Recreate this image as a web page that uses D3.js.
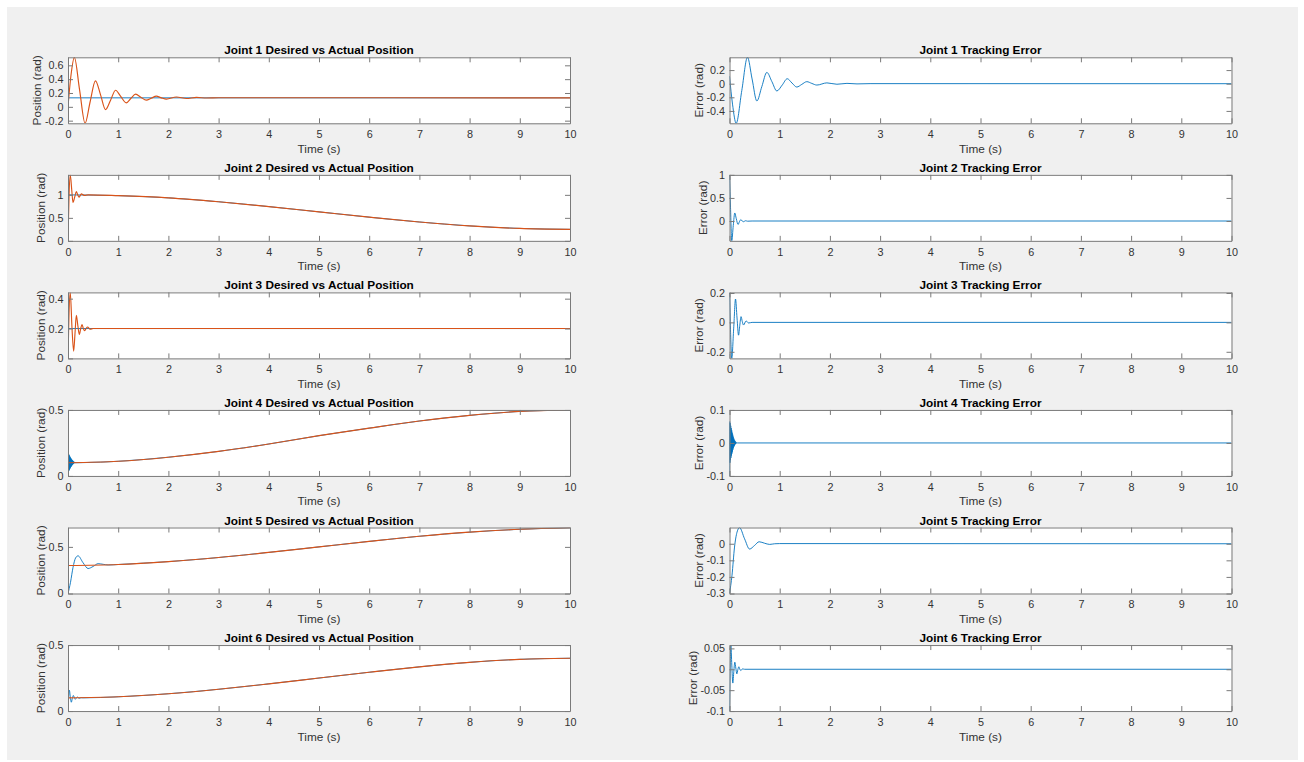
<!DOCTYPE html>
<html>
<head>
<meta charset="utf-8">
<script src="https://cdn.jsdelivr.net/npm/d3@7"></script>
<style>
  body { margin: 0; background: #fff; }
  text { font-family: "Liberation Sans", Arial, sans-serif; }
</style>
</head>
<body>
<div id="my_dataviz"></div>
<script>
// time ticks (s)
const timeTicks = [0, 1, 2, 3, 4, 5, 6, 7, 8, 9, 10];

// position series, [t, rad]. "first" is the blue line, "second" the orange one
const j1First = [[0, 0.13], [10, 0.13]];
const j1Second = [[0, 0.0], [0.06, 0.46], [0.127, 0.716], [0.23, 0.25], [0.34, -0.238], [0.44, 0.07],
  [0.547, 0.376], [0.65, 0.17], [0.747, -0.04], [0.85, 0.1], [0.947, 0.24], [1.05, 0.15], [1.16, 0.058],
  [1.25, 0.12], [1.347, 0.183], [1.45, 0.14], [1.56, 0.096], [1.66, 0.125], [1.76, 0.154], [1.86, 0.13],
  [1.96, 0.112], [2.16, 0.142], [2.36, 0.12], [2.56, 0.136], [2.76, 0.127], [3.0, 0.131], [10, 0.13]];

const j2First = [[0, 1.0], [1, 0.983], [2, 0.935], [3, 0.85], [4, 0.745], [5, 0.63], [6, 0.515],
  [7, 0.41], [8, 0.325], [9, 0.27], [10, 0.25]];
const j2Second = [[0, 0], [0.02, 0.95], [0.045, 1.435], [0.075, 1.1], [0.1, 0.833], [0.133, 0.95],
  [0.166, 1.07], [0.193, 1.0], [0.22, 0.95], [0.245, 0.99], [0.27, 1.02], [0.3, 1.0], [0.33, 0.99],
  [0.4, 1.0], [1, 0.983], [2, 0.935], [3, 0.85], [4, 0.745], [5, 0.63], [6, 0.515],
  [7, 0.41], [8, 0.325], [9, 0.27], [10, 0.25]];

const j3First = [[0, 0.2], [10, 0.2]];
const j3Second = [[0, 0], [0.02, 0.3], [0.045, 0.442], [0.08, 0.2], [0.113, 0.049], [0.14, 0.17],
  [0.166, 0.289], [0.196, 0.22], [0.226, 0.16], [0.253, 0.2], [0.28, 0.227], [0.305, 0.2],
  [0.33, 0.185], [0.36, 0.2], [0.39, 0.21], [0.44, 0.196], [0.5, 0.2], [10, 0.2]];

const j4First = [[0, 0], [0.004, 0.17], [0.009, 0.035], [0.014, 0.165], [0.019, 0.04], [0.024, 0.158],
  [0.029, 0.048], [0.034, 0.15], [0.039, 0.055], [0.044, 0.143], [0.049, 0.062], [0.054, 0.136],
  [0.059, 0.068], [0.064, 0.13], [0.069, 0.074], [0.074, 0.125], [0.079, 0.08], [0.084, 0.12],
  [0.089, 0.085], [0.094, 0.116], [0.099, 0.089], [0.104, 0.112], [0.109, 0.092], [0.114, 0.109],
  [0.119, 0.095], [0.124, 0.106], [0.129, 0.098], [0.134, 0.104], [0.14, 0.1], [0.3, 0.101],
  [1, 0.111], [2, 0.142], [3, 0.186], [4, 0.242], [5, 0.305], [6, 0.362], [7, 0.416], [8, 0.459],
  [9, 0.489], [10, 0.5]];
const j4Second = [[0, 0.1], [1, 0.111], [2, 0.142], [3, 0.186], [4, 0.242], [5, 0.305], [6, 0.362],
  [7, 0.416], [8, 0.459], [9, 0.489], [10, 0.5]];

const j5First = [[0, 0], [0.05, 0.12], [0.1, 0.28], [0.15, 0.38], [0.2, 0.404], [0.3, 0.33],
  [0.4, 0.268], [0.5, 0.29], [0.6, 0.32], [0.7, 0.313], [0.8, 0.306], [0.9, 0.308], [1, 0.311],
  [2, 0.342], [3, 0.386], [4, 0.441], [5, 0.5], [6, 0.559], [7, 0.614], [8, 0.658], [9, 0.689], [10, 0.705]];
const j5Second = [[0, 0.3], [1, 0.311], [2, 0.342], [3, 0.386], [4, 0.441], [5, 0.5], [6, 0.559],
  [7, 0.614], [8, 0.658], [9, 0.689], [10, 0.705]];

const j6First = [[0, 0], [0.013, 0.1], [0.027, 0.158], [0.046, 0.11], [0.066, 0.067], [0.086, 0.095],
  [0.106, 0.118], [0.126, 0.103], [0.146, 0.089], [0.166, 0.099], [0.186, 0.106], [0.206, 0.1],
  [0.226, 0.097], [0.26, 0.101], [0.3, 0.1], [1, 0.108], [2, 0.131], [3, 0.165], [4, 0.206],
  [5, 0.25], [6, 0.294], [7, 0.335], [8, 0.369], [9, 0.392], [10, 0.4]];
const j6Second = [[0, 0.1], [1, 0.108], [2, 0.131], [3, 0.165], [4, 0.206], [5, 0.25], [6, 0.294],
  [7, 0.335], [8, 0.369], [9, 0.392], [10, 0.4]];

// tracking error series, [t, rad]
const e1 = [[0, 0.11], [0.06, -0.3], [0.133, -0.582], [0.245, -0.1], [0.358, 0.388], [0.45, 0.07],
  [0.545, -0.254], [0.645, -0.04], [0.744, 0.166], [0.845, 0.03], [0.943, -0.107], [1.05, -0.02],
  [1.15, 0.073], [1.245, 0.01], [1.34, -0.049], [1.44, -0.01], [1.54, 0.03], [1.64, 0.004],
  [1.74, -0.02], [1.94, 0.012], [2.14, -0.008], [2.34, 0.005], [2.54, -0.003], [2.8, 0.001], [10, 0]];
const e2 = [[0, 1.0], [0.02, 0.3], [0.045, -0.43], [0.075, -0.1], [0.105, 0.174], [0.135, 0.05],
  [0.17, -0.075], [0.2, -0.01], [0.226, 0.03], [0.255, -0.002], [0.28, -0.015], [0.32, 0.006],
  [0.36, -0.004], [0.45, 0], [10, 0]];
const e3 = [[0, 0.204], [0.02, -0.05], [0.045, -0.245], [0.085, -0.03], [0.12, 0.159], [0.15, 0.03],
  [0.18, -0.087], [0.205, -0.02], [0.23, 0.039], [0.255, 0.005], [0.28, -0.018], [0.33, 0.01],
  [0.38, -0.004], [0.45, 0], [10, 0]];
const e4 = [[0, -0.1], [0.004, 0.065], [0.009, -0.06], [0.014, 0.06], [0.019, -0.052], [0.024, 0.052],
  [0.029, -0.045], [0.034, 0.045], [0.039, -0.038], [0.044, 0.038], [0.049, -0.032], [0.054, 0.031],
  [0.059, -0.026], [0.064, 0.025], [0.069, -0.02], [0.074, 0.019], [0.079, -0.015], [0.084, 0.014],
  [0.089, -0.011], [0.094, 0.01], [0.099, -0.008], [0.104, 0.007], [0.109, -0.005], [0.114, 0.005],
  [0.119, -0.003], [0.124, 0.003], [0.13, -0.002], [0.14, 0.001], [0.16, 0], [10, 0]];
const e5 = [[0, -0.3], [0.05, -0.19], [0.1, -0.02], [0.15, 0.07], [0.2, 0.097], [0.3, 0.03],
  [0.4, -0.032], [0.5, -0.01], [0.59, 0.012], [0.7, 0.003], [0.8, -0.004], [0.9, 0], [1.0, 0.001], [10, 0]];
const e6 = [[0, -0.1], [0.013, 0], [0.027, 0.058], [0.046, 0.01], [0.066, -0.033], [0.086, -0.005],
  [0.106, 0.017], [0.126, 0.003], [0.146, -0.011], [0.166, -0.001], [0.186, 0.006], [0.206, 0],
  [0.226, -0.003], [0.26, 0.001], [0.3, 0], [10, 0]];

// y limits and ticks
const posLimits = [[-0.238, 0.716], [0, 1.435], [0, 0.442], [0, 0.5], [0, 0.708], [0, 0.5]];
const posTicks = [[-0.2, 0, 0.2, 0.4, 0.6], [0, 0.5, 1], [0, 0.2, 0.4], [0, 0.5], [0, 0.5], [0, 0.5]];
const errLimits = [[-0.582, 0.388], [-0.43, 1.0], [-0.245, 0.204], [-0.1, 0.1], [-0.3, 0.098], [-0.1, 0.058]];
const errTicks = [[-0.4, -0.2, 0, 0.2], [0, 0.5, 1], [-0.2, 0, 0.2], [-0.1, 0, 0.1], [-0.3, -0.2, -0.1, 0], [-0.1, -0.05, 0, 0.05]];

const firstSeries = [j1First, j2First, j3First, j4First, j5First, j6First];
const secondSeries = [j1Second, j2Second, j3Second, j4Second, j5Second, j6Second];
const errSeries = [e1, e2, e3, e4, e5, e6];

const width = 1304, height = 762;
const colX = [68, 729.5], plotW = 502, plotH = 66, rowTop = 57.3, rowStep = 117.55;
const blue = "#0072BD", orange = "#D95319";

const svg = d3.select("#my_dataviz")
  .append("svg")
  .attr("width", width)
  .attr("height", height);

svg.append("rect")
  .attr("x", 7).attr("y", 7)
  .attr("width", 1291).attr("height", 753)
  .attr("fill", "#f0f0f0");

function panel(id, x0, y0, lines, yDom, yTicks, title, ylabel) {
  const x = d3.scaleLinear().domain([0, 10]).range([x0, x0 + plotW]);
  const y = d3.scaleLinear().domain(yDom).range([y0 + plotH, y0]);
  const g = svg.append("g");

  g.append("rect")
    .attr("x", x0).attr("y", y0)
    .attr("width", plotW).attr("height", plotH)
    .attr("fill", "#fff");

  g.append("clipPath").attr("id", "clip" + id)
    .append("rect")
    .attr("x", x0).attr("y", y0)
    .attr("width", plotW).attr("height", plotH);

  const line = d3.line()
    .x(d => x(d[0]))
    .y(d => y(d[1]))
    .curve(d3.curveMonotoneX);

  g.append("g")
    .attr("clip-path", `url(#clip${id})`)
    .selectAll("path")
    .data(lines)
    .enter().append("path")
    .attr("d", d => line(d.values))
    .attr("fill", "none")
    .attr("stroke", d => d.color)
    .attr("stroke-width", d => d.color === orange ? 1.15 : 0.9);

  // axes, ticks inside on all four sides
  g.append("g")
    .attr("transform", `translate(0,${y0 + plotH})`)
    .call(d3.axisBottom(x).tickValues(timeTicks).tickSizeInner(-5).tickSizeOuter(0).tickPadding(7));
  const left = g.append("g")
    .attr("transform", `translate(${x0},0)`)
    .call(d3.axisLeft(y).tickValues(yTicks).tickFormat(d => String(d)).tickSizeInner(-5).tickSizeOuter(0).tickPadding(4.4));
  g.append("g")
    .attr("transform", `translate(0,${y0})`)
    .call(d3.axisTop(x).tickValues(timeTicks).tickFormat("").tickSizeInner(-5).tickSizeOuter(0));
  g.append("g")
    .attr("transform", `translate(${x0 + plotW},0)`)
    .call(d3.axisRight(y).tickValues(yTicks).tickFormat("").tickSizeInner(-5).tickSizeOuter(0));

  g.selectAll(".domain, .tick line").attr("stroke", "#7a7a7a");
  g.selectAll(".tick text")
    .attr("fill", "#333")
    .attr("font-size", 10.8)
    .attr("font-family", "Liberation Sans, Arial, sans-serif");

  let maxW = 0;
  left.selectAll(".tick text").each(function () { maxW = Math.max(maxW, this.getComputedTextLength()); });

  g.append("text")
    .attr("x", x0 + plotW / 2).attr("y", y0 - 3)
    .attr("text-anchor", "middle")
    .attr("font-size", 11.8)
    .attr("font-weight", "bold")
    .attr("fill", "#000")
    .text(title);

  g.append("text")
    .attr("x", x0 + plotW / 2).attr("y", y0 + plotH + 29.5)
    .attr("text-anchor", "middle")
    .attr("font-size", 11.8)
    .attr("fill", "#333")
    .text("Time (s)");

  g.append("text")
    .attr("transform", `translate(${x0 - 4.4 - maxW - 3.5},${y0 + plotH / 2}) rotate(-90)`)
    .attr("text-anchor", "middle")
    .attr("font-size", 11.8)
    .attr("fill", "#333")
    .text(ylabel);
}

for (let i = 0; i < 6; i++) {
  const y0 = rowTop + i * rowStep;
  panel("p" + i, colX[0], y0,
    [{ values: firstSeries[i], color: blue }, { values: secondSeries[i], color: orange }],
    posLimits[i], posTicks[i], `Joint ${i + 1} Desired vs Actual Position`, "Position (rad)");
  panel("e" + i, colX[1], y0,
    [{ values: errSeries[i], color: blue }],
    errLimits[i], errTicks[i], `Joint ${i + 1} Tracking Error`, "Error (rad)");
}
</script>
</body>
</html>
